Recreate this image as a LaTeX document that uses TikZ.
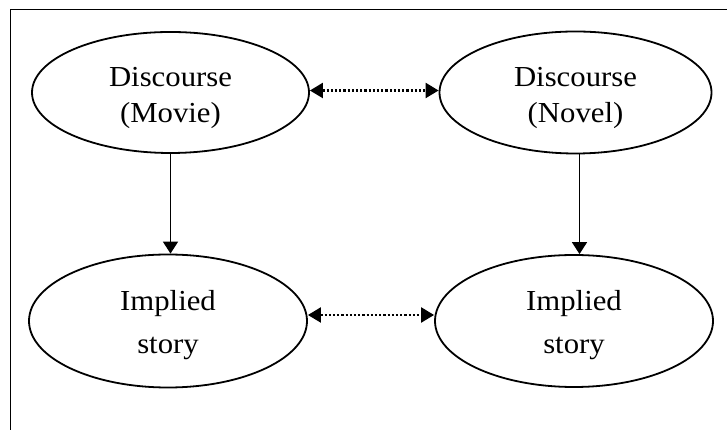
\documentclass[tikz,border=0pt]{standalone}
\usepackage{graphicx}
\usepackage{fontspec}
\setmainfont{Liberation Serif}
\usetikzlibrary{shapes.geometric,arrows.meta}
\newcommand\hs[1]{\scalebox{1.06}[1]{#1}}
\begin{document}
\begin{tikzpicture}[x=1pt,y=1pt,
  oval/.style={draw, ellipse, line width=1.8pt, inner sep=0pt},
  upper/.style={align=center, inner sep=0pt, font={\fontsize{29}{36}\selectfont}},
  lower/.style={align=center, inner sep=0pt, font={\fontsize{29}{43}\selectfont}},
  solidarrow/.style={line width=1.7pt, -{Triangle[length=12pt,width=15pt]}},
  dotarrow/.style={line width=2.2pt, dash pattern=on 2.2pt off 2pt,
     {Triangle[length=13pt,width=15pt]}-{Triangle[length=13pt,width=15pt]}}
]
\useasboundingbox (0,0) rectangle (727,430);
\coordinate (frameTL) at (10.5,420.5);
\coordinate (frameTR) at (727,420.5);
\coordinate (frameBL) at (10.5,0);
\draw[line width=1.8pt] (frameBL) -- (frameTL) -- (frameTR);

\node[oval, minimum width=277pt, minimum height=121pt] (tl) at (170.5,337.5) {};
\node[oval, minimum width=272pt, minimum height=122pt] (tr) at (575.5,337.5) {};
\node[oval, minimum width=278pt, minimum height=133pt] (bl) at (168,109) {};
\node[oval, minimum width=278pt, minimum height=132pt] (br) at (574,109) {};

\node[upper] (tlText) at ([yshift=-5pt]tl.center) {\hs{Discourse}\\\hs{(Movie)}};
\node[upper] (trText) at ([yshift=-5pt]tr.center) {\hs{Discourse}\\\hs{(Novel)}};
\node[lower] (blText) at ([yshift=-4pt]bl.center) {\hs{Implied}\\\hs{story}};
\node[lower] (brText) at ([yshift=-4pt]br.center) {\hs{Implied}\\\hs{story}};

\draw[dotarrow] ([yshift=2pt]tl.east) -- ([yshift=2pt]tr.west);
\draw[dotarrow] ([yshift=6pt]bl.east) -- ([yshift=6pt]br.west);
\draw[solidarrow] (tl.south) -- (tl.south |- bl.north);
\draw[solidarrow] ([xshift=4pt]tr.south) -- ([xshift=4pt]tr.south |- br.north);
\end{tikzpicture}
\end{document}
